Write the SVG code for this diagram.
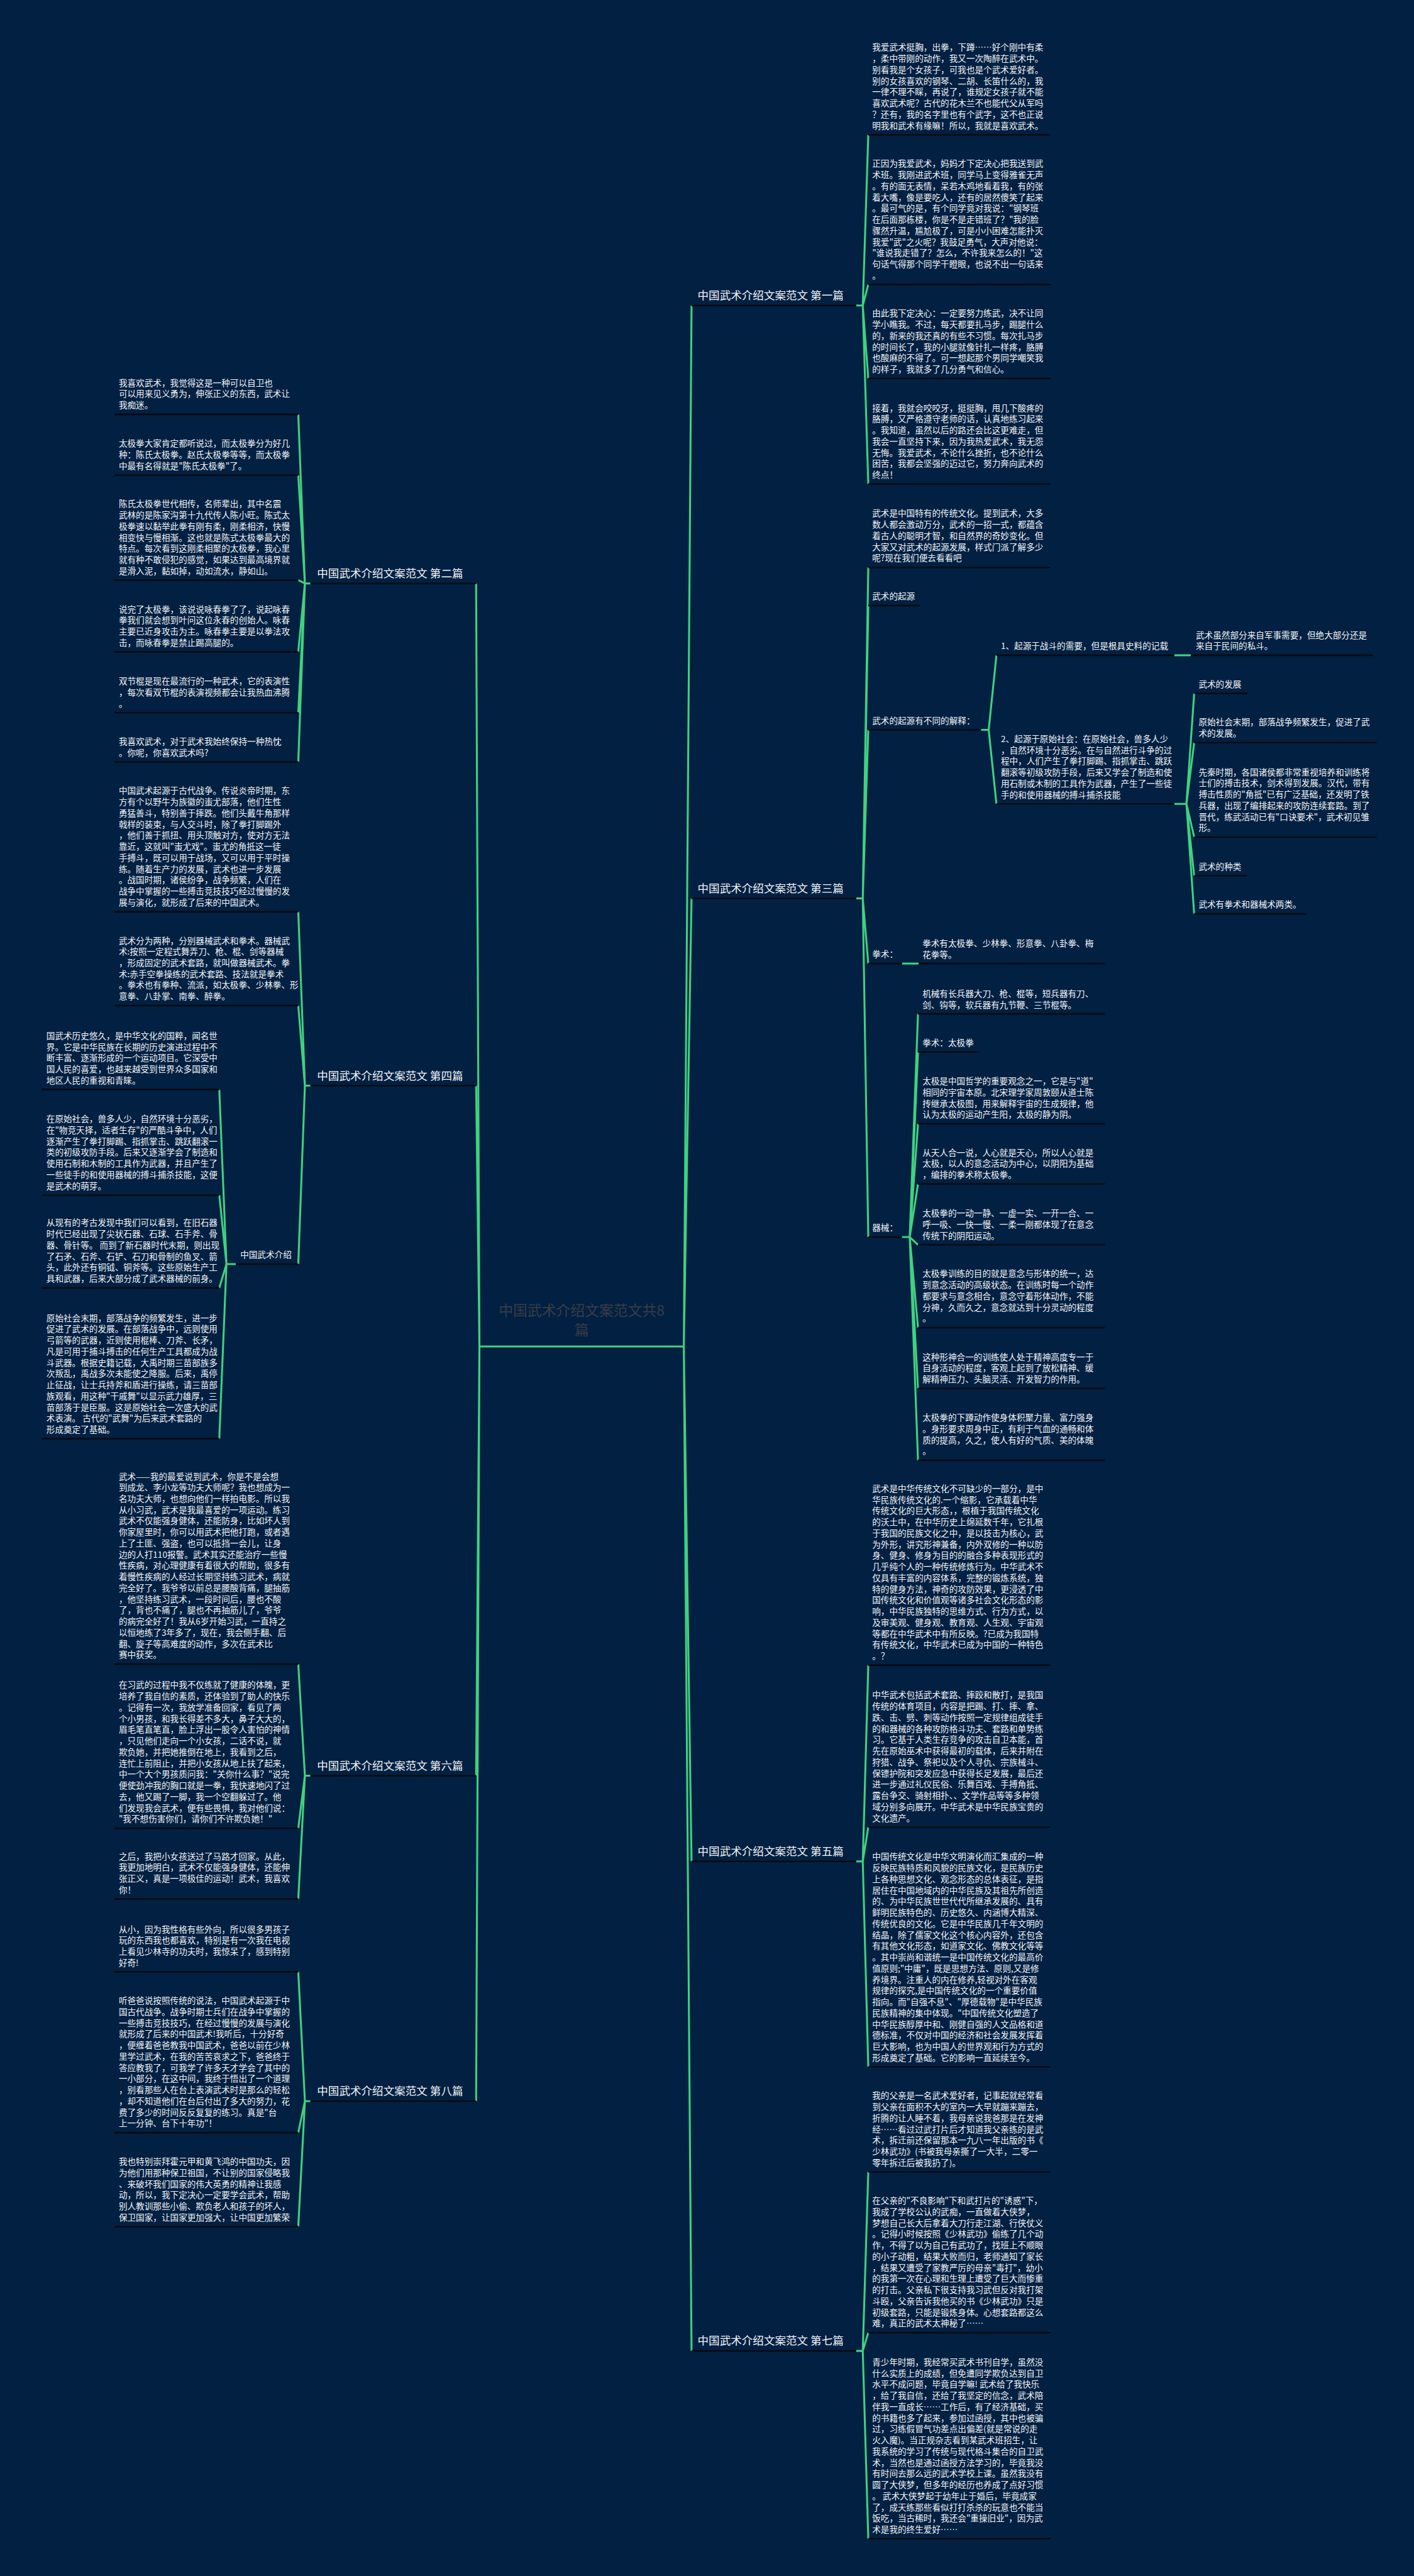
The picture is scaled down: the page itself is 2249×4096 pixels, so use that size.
<svg xmlns="http://www.w3.org/2000/svg" width="2249" height="4096" viewBox="0 0 2249 4096">
<style>
.t{font-family:"Noto Sans CJK SC","Noto Sans",sans-serif;font-size:15.5px;fill:#f2f4f6}
.lb{font-family:"Noto Sans CJK SC","Noto Sans",sans-serif;font-size:20px;fill:#f2f4f6}
.ct{font-family:"Noto Sans CJK SC","Noto Sans",sans-serif;font-size:26px;fill:#3a3d42}
.u{stroke:#050b12;stroke-width:3;fill:none}
.c{stroke:#41d17f;stroke-width:3.5;fill:none;stroke-linejoin:round}
</style>
<rect width="2249" height="4096" fill="#022042"/>
<g transform="scale(0.87852)">
<g id="connectors">
<path class="c" d="M868,2437 H1238"/>
<path class="c" d="M1238,2437 L1252,553 M1238,2437 L1252,1626 M1238,2437 L1252,3369 M1238,2437 L1252,4255"/>
<path class="c" d="M868,2437 L862,1056 M868,2437 L862,1965 M868,2437 L862,3214 M868,2437 L862,3803"/>
<path class="c" d="M1550,553 H1562 L1572,244 M1562,553 L1572,515 M1562,553 L1572,685 M1562,553 L1572,876"/>
<path class="c" d="M1550,1626 H1562 L1572,1027 M1562,1626 L1572,1096 M1562,1626 L1572,1321 M1562,1626 L1572,1744 M1562,1626 L1572,2239"/>
<path class="c" d="M1776,1321 H1790 L1804,1186 M1790,1321 L1804,1455"/>
<path class="c" d="M2126,1186 H2156"/>
<path class="c" d="M2126,1455 H2148 L2162,1255 M2148,1455 L2162,1344 M2148,1455 L2162,1515 M2148,1455 L2162,1585 M2148,1455 L2162,1654"/>
<path class="c" d="M1633,1744 H1663"/>
<path class="c" d="M1633,2239 H1647 L1662,1835 M1647,2239 L1662,1904 M1647,2239 L1662,2034 M1647,2239 L1662,2143 M1647,2239 L1662,2253 M1647,2239 L1662,2403 M1647,2239 L1662,2513 M1647,2239 L1662,2643"/>
<path class="c" d="M1550,3369 H1562 L1572,3014 M1562,3369 L1572,3307 M1562,3369 L1572,3741"/>
<path class="c" d="M1550,4255 H1562 L1572,3931 M1562,4255 L1572,4222 M1562,4255 L1572,4595"/>
<path class="c" d="M562,1056 H552 L540,750 M552,1056 L540,860 M552,1056 L540,1050 M552,1056 L540,1180 M552,1056 L540,1290 M552,1056 L540,1379"/>
<path class="c" d="M562,1965 H552 L540,1650 M552,1965 L540,1820 M552,1965 L540,2288"/>
<path class="c" d="M427,2288 H410 L397,1972 M410,2288 L397,2163 M410,2288 L397,2331 M410,2288 L397,2604"/>
<path class="c" d="M562,3214 H552 L540,3012 M552,3214 L540,3309 M552,3214 L540,3437"/>
<path class="c" d="M562,3803 H552 L540,3569 M552,3803 L540,3860 M552,3803 L540,4030"/>
</g>

<g id="center">
<text class="ct" text-anchor="middle"><tspan x="1053" y="2381">中国武术介绍文案范文共8</tspan><tspan x="1053" y="2416">篇</tspan></text>
</g>

<g id="b1"><text class="lb" x="1263" y="542">中国武术介绍文案范文 第一篇</text><line class="u" x1="1252" y1="553" x2="1550" y2="553"/></g>
<g id="b3"><text class="lb" x="1263" y="1615">中国武术介绍文案范文 第三篇</text><line class="u" x1="1252" y1="1626" x2="1550" y2="1626"/></g>
<g id="b5"><text class="lb" x="1263" y="3358">中国武术介绍文案范文 第五篇</text><line class="u" x1="1252" y1="3369" x2="1550" y2="3369"/></g>
<g id="b7"><text class="lb" x="1263" y="4244">中国武术介绍文案范文 第七篇</text><line class="u" x1="1252" y1="4255" x2="1550" y2="4255"/></g>
<g id="b2"><text class="lb" x="574" y="1045">中国武术介绍文案范文 第二篇</text><line class="u" x1="562" y1="1056" x2="862" y2="1056"/></g>
<g id="b4"><text class="lb" x="574" y="1954">中国武术介绍文案范文 第四篇</text><line class="u" x1="562" y1="1965" x2="862" y2="1965"/></g>
<g id="b6"><text class="lb" x="574" y="3203">中国武术介绍文案范文 第六篇</text><line class="u" x1="562" y1="3214" x2="862" y2="3214"/></g>
<g id="b8"><text class="lb" x="574" y="3792">中国武术介绍文案范文 第八篇</text><line class="u" x1="562" y1="3803" x2="862" y2="3803"/></g>

<g id="r1a"><text class="t" x="1579" y="91.6"><tspan x="1579" dy="0">我爱武术挺胸，出拳，下蹲……好个刚中有柔</tspan><tspan x="1579" dy="20.2">，柔中带刚的动作，我又一次陶醉在武术中。</tspan><tspan x="1579" dy="20.2">别看我是个女孩子，可我也是个武术爱好者。</tspan><tspan x="1579" dy="20.2">别的女孩喜欢的钢琴、二胡、长笛什么的，我</tspan><tspan x="1579" dy="20.2">一律不理不睬，再说了，谁规定女孩子就不能</tspan><tspan x="1579" dy="20.2">喜欢武术呢？古代的花木兰不也能代父从军吗</tspan><tspan x="1579" dy="20.2">？还有，我的名字里也有个武字，这不也正说</tspan><tspan x="1579" dy="20.2">明我和武术有缘嘛！所以，我就是喜欢武术。</tspan></text><line class="u" x1="1572" y1="244" x2="1902" y2="244"/></g>
<g id="r1b"><text class="t" x="1579" y="302"><tspan x="1579" dy="0">正因为我爱武术，妈妈才下定决心把我送到武</tspan><tspan x="1579" dy="20.2">术班。我刚进武术班，同学马上变得雅雀无声</tspan><tspan x="1579" dy="20.2">。有的面无表情，呆若木鸡地看着我，有的张</tspan><tspan x="1579" dy="20.2">着大嘴，像是要吃人，还有的居然傻笑了起来</tspan><tspan x="1579" dy="20.2">。最可气的是，有个同学竟对我说："钢琴班</tspan><tspan x="1579" dy="20.2">在后面那栋楼，你是不是走错班了？"我的脸</tspan><tspan x="1579" dy="20.2">骤然升温，尴尬极了，可是小小困难怎能扑灭</tspan><tspan x="1579" dy="20.2">我爱"武"之火呢？我鼓足勇气，大声对他说：</tspan><tspan x="1579" dy="20.2">"谁说我走错了？怎么，不许我来怎么的！"这</tspan><tspan x="1579" dy="20.2">句话气得那个同学干瞪眼，也说不出一句话来</tspan><tspan x="1579" dy="20.2">。</tspan></text><line class="u" x1="1572" y1="515" x2="1902" y2="515"/></g>
<g id="r1c"><text class="t" x="1579" y="573"><tspan x="1579" dy="0">由此我下定决心：一定要努力练武，决不让同</tspan><tspan x="1579" dy="20.2">学小瞧我。不过，每天都要扎马步，踢腿什么</tspan><tspan x="1579" dy="20.2">的，新来的我还真的有些不习惯。每次扎马步</tspan><tspan x="1579" dy="20.2">的时间长了，我的小腿就像针扎一样疼，胳膊</tspan><tspan x="1579" dy="20.2">也酸麻的不得了。可一想起那个男同学嘲笑我</tspan><tspan x="1579" dy="20.2">的样子，我就多了几分勇气和信心。</tspan></text><line class="u" x1="1572" y1="685" x2="1902" y2="685"/></g>
<g id="r1d"><text class="t" x="1579" y="744"><tspan x="1579" dy="0">接着，我就会咬咬牙，挺挺胸，甩几下酸疼的</tspan><tspan x="1579" dy="20.2">胳膊，又严格遵守老师的话，认真地练习起来</tspan><tspan x="1579" dy="20.2">。我知道，虽然以后的路还会比这更难走，但</tspan><tspan x="1579" dy="20.2">我会一直坚持下来，因为我热爱武术，我无怨</tspan><tspan x="1579" dy="20.2">无悔。我爱武术，不论什么挫折，也不论什么</tspan><tspan x="1579" dy="20.2">困苦，我都会坚强的迈过它，努力奔向武术的</tspan><tspan x="1579" dy="20.2">终点！</tspan></text><line class="u" x1="1572" y1="876" x2="1902" y2="876"/></g>

<g id="r3e"><text class="t" x="1579" y="935"><tspan x="1579" dy="0">武术是中国特有的传统文化。提到武术，大多</tspan><tspan x="1579" dy="20.2">数人都会激动万分，武术的一招一式，都蕴含</tspan><tspan x="1579" dy="20.2">着古人的聪明才智，和自然界的奇妙变化。但</tspan><tspan x="1579" dy="20.2">大家又对武术的起源发展，样式门派了解多少</tspan><tspan x="1579" dy="20.2">呢?现在我们便去看看吧</tspan></text><line class="u" x1="1572" y1="1027" x2="1902" y2="1027"/></g>
<g id="r3qy"><text class="t" x="1579" y="1085">武术的起源</text><line class="u" x1="1572" y1="1096" x2="1666" y2="1096"/></g>
<g id="r3js"><text class="t" x="1579" y="1310">武术的起源有不同的解释：</text><line class="u" x1="1572" y1="1321" x2="1776" y2="1321"/></g>
<g id="r3o1"><text class="t" x="1812" y="1175">1、起源于战斗的需要，但是根具史料的记载</text><line class="u" x1="1804" y1="1186" x2="2126" y2="1186"/></g>
<g id="r3o1a"><text class="t" x="2165" y="1155"><tspan x="2165" dy="0">武术虽然部分来自军事需要，但绝大部分还是</tspan><tspan x="2165" dy="20.2">来自于民间的私斗。</tspan></text><line class="u" x1="2156" y1="1186" x2="2485" y2="1186"/></g>
<g id="r3o2"><text class="t" x="1812" y="1343"><tspan x="1812" dy="0">2、起源于原始社会：在原始社会，兽多人少</tspan><tspan x="1812" dy="20.2">，自然环境十分恶劣。在与自然进行斗争的过</tspan><tspan x="1812" dy="20.2">程中，人们产生了拳打脚踢、指抓掌击、跳跃</tspan><tspan x="1812" dy="20.2">翻滚等初级攻防手段，后来又学会了制造和使</tspan><tspan x="1812" dy="20.2">用石制或木制的工具作为武器，产生了一些徒</tspan><tspan x="1812" dy="20.2">手的和使用器械的搏斗捕杀技能</tspan></text><line class="u" x1="1804" y1="1455" x2="2126" y2="1455"/></g>
<g id="r3fz"><text class="t" x="2170" y="1244">武术的发展</text><line class="u" x1="2162" y1="1255" x2="2258" y2="1255"/></g>
<g id="r3fz1"><text class="t" x="2170" y="1313"><tspan x="2170" dy="0">原始社会末期，部落战争频繁发生，促进了武</tspan><tspan x="2170" dy="20.2">术的发展。</tspan></text><line class="u" x1="2162" y1="1344" x2="2492" y2="1344"/></g>
<g id="r3fz2"><text class="t" x="2170" y="1403"><tspan x="2170" dy="0">先秦时期，各国诸侯都非常重视培养和训练将</tspan><tspan x="2170" dy="20.2">士们的搏击技术，剑术得到发展。汉代，带有</tspan><tspan x="2170" dy="20.2">搏击性质的"角抵"已有广泛基础，还发明了铁</tspan><tspan x="2170" dy="20.2">兵器，出现了编排起来的攻防连续套路。到了</tspan><tspan x="2170" dy="20.2">晋代，练武活动已有"口诀要术"，武术初见雏</tspan><tspan x="2170" dy="20.2">形。</tspan></text><line class="u" x1="2162" y1="1515" x2="2492" y2="1515"/></g>
<g id="r3zl"><text class="t" x="2170" y="1574">武术的种类</text><line class="u" x1="2162" y1="1585" x2="2258" y2="1585"/></g>
<g id="r3zl1"><text class="t" x="2170" y="1643">武术有拳术和器械术两类。</text><line class="u" x1="2162" y1="1654" x2="2365" y2="1654"/></g>
<g id="r3qs"><text class="t" x="1579" y="1733">拳术：</text><line class="u" x1="1572" y1="1744" x2="1633" y2="1744"/></g>
<g id="r3qs1"><text class="t" x="1670" y="1713"><tspan x="1670" dy="0">拳术有太极拳、少林拳、形意拳、八卦拳、梅</tspan><tspan x="1670" dy="20.2">花拳等。</tspan></text><line class="u" x1="1663" y1="1744" x2="2000" y2="1744"/></g>
<g id="r3qx"><text class="t" x="1579" y="2228">器械：</text><line class="u" x1="1572" y1="2239" x2="1633" y2="2239"/></g>
<g id="r3qx1"><text class="t" x="1670" y="1804"><tspan x="1670" dy="0">机械有长兵器大刀、枪、棍等，短兵器有刀、</tspan><tspan x="1670" dy="20.2">剑、钩等，软兵器有九节鞭、三节棍等。</tspan></text><line class="u" x1="1662" y1="1835" x2="2000" y2="1835"/></g>
<g id="r3qx2"><text class="t" x="1670" y="1893">拳术：太极拳</text><line class="u" x1="1662" y1="1904" x2="1772" y2="1904"/></g>
<g id="r3qx3"><text class="t" x="1670" y="1962.4"><tspan x="1670" dy="0">太极是中国哲学的重要观念之一，它是与"道"</tspan><tspan x="1670" dy="20.2">相同的宇宙本原。北宋理学家周敦颐从道士陈</tspan><tspan x="1670" dy="20.2">抟继承太极图，用来解释宇宙的生成规律，他</tspan><tspan x="1670" dy="20.2">认为太极的运动产生阳，太极的静为阴。</tspan></text><line class="u" x1="1662" y1="2034" x2="2000" y2="2034"/></g>
<g id="r3qx4"><text class="t" x="1670" y="2091.6"><tspan x="1670" dy="0">从天人合一说，人心就是天心，所以人心就是</tspan><tspan x="1670" dy="20.2">太极，以人的意念活动为中心，以阴阳为基础</tspan><tspan x="1670" dy="20.2">，编排的拳术称太极拳。</tspan></text><line class="u" x1="1662" y1="2143" x2="2000" y2="2143"/></g>
<g id="r3qx5"><text class="t" x="1670" y="2201.6"><tspan x="1670" dy="0">太极拳的一动一静、一虚一实、一开一合、一</tspan><tspan x="1670" dy="20.2">呼一吸、一快一慢、一柔一刚都体现了在意念</tspan><tspan x="1670" dy="20.2">传统下的阴阳运动。</tspan></text><line class="u" x1="1662" y1="2253" x2="2000" y2="2253"/></g>
<g id="r3qx6"><text class="t" x="1670" y="2311.2"><tspan x="1670" dy="0">太极拳训练的目的就是意念与形体的统一，达</tspan><tspan x="1670" dy="20.2">到意念活动的高级状态。在训练时每一个动作</tspan><tspan x="1670" dy="20.2">都要求与意念相合，意念守着形体动作，不能</tspan><tspan x="1670" dy="20.2">分神，久而久之，意念就达到十分灵动的程度</tspan><tspan x="1670" dy="20.2">。</tspan></text><line class="u" x1="1662" y1="2403" x2="2000" y2="2403"/></g>
<g id="r3qx7"><text class="t" x="1670" y="2461.6"><tspan x="1670" dy="0">这种形神合一的训练使人处于精神高度专一于</tspan><tspan x="1670" dy="20.2">自身活动的程度，客观上起到了放松精神、缓</tspan><tspan x="1670" dy="20.2">解精神压力、头脑灵活、开发智力的作用。</tspan></text><line class="u" x1="1662" y1="2513" x2="2000" y2="2513"/></g>
<g id="r3qx8"><text class="t" x="1670" y="2571.4"><tspan x="1670" dy="0">太极拳的下蹲动作使身体积聚力量、富力强身</tspan><tspan x="1670" dy="20.2">。身形要求周身中正，有利于气血的通畅和体</tspan><tspan x="1670" dy="20.2">质的提高，久之，使人有好的气质、美的体魄</tspan><tspan x="1670" dy="20.2">。</tspan></text><line class="u" x1="1662" y1="2643" x2="2000" y2="2643"/></g>

<g id="r5f"><text class="t" x="1579" y="2700"><tspan x="1579" dy="0">武术是中华传统文化不可缺少的一部分，是中</tspan><tspan x="1579" dy="20.2">华民族传统文化的.一个缩影，它承载着中华</tspan><tspan x="1579" dy="20.2">传统文化的巨大形态，，根植于我国传统文化</tspan><tspan x="1579" dy="20.2">的沃土中，在中华历史上绵延数千年，它扎根</tspan><tspan x="1579" dy="20.2">于我国的民族文化之中，是以技击为核心，武</tspan><tspan x="1579" dy="20.2">为外形，讲究形神兼备，内外双修的一种以防</tspan><tspan x="1579" dy="20.2">身、健身、修身为目的的融合多种表现形式的</tspan><tspan x="1579" dy="20.2">几乎纯个人的一种传统修炼行为。中华武术不</tspan><tspan x="1579" dy="20.2">仅具有丰富的内容体系，完整的锻炼系统，独</tspan><tspan x="1579" dy="20.2">特的健身方法，神奇的攻防效果，更浸透了中</tspan><tspan x="1579" dy="20.2">国传统文化和价值观等诸多社会文化形态的影</tspan><tspan x="1579" dy="20.2">响，中华民族独特的思维方式、行为方式，以</tspan><tspan x="1579" dy="20.2">及审美观、健身观、教育观、人生观、宇宙观</tspan><tspan x="1579" dy="20.2">等都在中华武术中有所反映。?已成为我国特</tspan><tspan x="1579" dy="20.2">有传统文化，中华武术已成为中国的一种特色</tspan><tspan x="1579" dy="20.2">。？</tspan></text><line class="u" x1="1572" y1="3014" x2="1902" y2="3014"/></g>
<g id="r5g"><text class="t" x="1579" y="3073.8"><tspan x="1579" dy="0">中华武术包括武术套路、摔跤和散打，是我国</tspan><tspan x="1579" dy="20.2">传统的体育项目，内容是把踢、打、摔、拿、</tspan><tspan x="1579" dy="20.2">跌、击、劈、刺等动作按照一定规律组成徒手</tspan><tspan x="1579" dy="20.2">的和器械的各种攻防格斗功夫、套路和单势练</tspan><tspan x="1579" dy="20.2">习。它基于人类生存竞争的攻击自卫本能，首</tspan><tspan x="1579" dy="20.2">先在原始巫术中获得最初的载体，后来并附在</tspan><tspan x="1579" dy="20.2">狩猎、战争、祭祀以及个人寻仇、宗族械斗、</tspan><tspan x="1579" dy="20.2">保镖护院和突发应急中获得长足发展，最后还</tspan><tspan x="1579" dy="20.2">进一步通过礼仪民俗、乐舞百戏、手搏角抵、</tspan><tspan x="1579" dy="20.2">露台争交、骑射相扑、、文学作品等等多种领</tspan><tspan x="1579" dy="20.2">域分别多向展开。中华武术是中华民族宝贵的</tspan><tspan x="1579" dy="20.2">文化遗产。</tspan></text><line class="u" x1="1572" y1="3307" x2="1902" y2="3307"/></g>
<g id="r5h"><text class="t" x="1579" y="3366.4"><tspan x="1579" dy="0">中国传统文化是中华文明演化而汇集成的一种</tspan><tspan x="1579" dy="20.2">反映民族特质和风貌的民族文化，是民族历史</tspan><tspan x="1579" dy="20.2">上各种思想文化、观念形态的总体表征，是指</tspan><tspan x="1579" dy="20.2">居住在中国地域内的中华民族及其祖先所创造</tspan><tspan x="1579" dy="20.2">的、为中华民族世世代代所继承发展的、具有</tspan><tspan x="1579" dy="20.2">鲜明民族特色的、历史悠久、内涵博大精深、</tspan><tspan x="1579" dy="20.2">传统优良的文化。它是中华民族几千年文明的</tspan><tspan x="1579" dy="20.2">结晶，除了儒家文化这个核心内容外，还包含</tspan><tspan x="1579" dy="20.2">有其他文化形态，如道家文化、佛教文化等等</tspan><tspan x="1579" dy="20.2">。其中崇尚和谐统一是中国传统文化的最高价</tspan><tspan x="1579" dy="20.2">值原则;"中庸"，既是思想方法、原则,又是修</tspan><tspan x="1579" dy="20.2">养境界。注重人的内在修养,轻视对外在客观</tspan><tspan x="1579" dy="20.2">规律的探究,是中国传统文化的一个重要价值</tspan><tspan x="1579" dy="20.2">指向。而"自强不息"、"厚德载物"是中华民族</tspan><tspan x="1579" dy="20.2">民族精神的集中体现。"中国传统文化塑造了</tspan><tspan x="1579" dy="20.2">中华民族醇厚中和、刚健自强的人文品格和道</tspan><tspan x="1579" dy="20.2">德标准，不仅对中国的经济和社会发展发挥着</tspan><tspan x="1579" dy="20.2">巨大影响，也为中国人的世界观和行为方式的</tspan><tspan x="1579" dy="20.2">形成奠定了基础。它的影响一直延续至今。</tspan></text><line class="u" x1="1572" y1="3741" x2="1902" y2="3741"/></g>

<g id="r7i"><text class="t" x="1579" y="3798.8"><tspan x="1579" dy="0">我的父亲是一名武术爱好者，记事起就经常看</tspan><tspan x="1579" dy="20.2">到父亲在面积不大的室内一大早就蹦来蹦去，</tspan><tspan x="1579" dy="20.2">折腾的让人睡不着，我母亲说我爸那是在发神</tspan><tspan x="1579" dy="20.2">经……看过过武打片后才知道我父亲练的是武</tspan><tspan x="1579" dy="20.2">术，拆迁前还保留那本一九八一年出版的书《</tspan><tspan x="1579" dy="20.2">少林武功》(书被我母亲撕了一大半，二零一</tspan><tspan x="1579" dy="20.2">零年拆迁后被我扔了)。</tspan></text><line class="u" x1="1572" y1="3931" x2="1902" y2="3931"/></g>
<g id="r7j"><text class="t" x="1579" y="3988.8"><tspan x="1579" dy="0">在父亲的"不良影响"下和武打片的"诱惑"下，</tspan><tspan x="1579" dy="20.2">我成了学校公认的武痴，一直做着大侠梦，</tspan><tspan x="1579" dy="20.2">梦想自己长大后拿着大刀行走江湖、行侠仗义</tspan><tspan x="1579" dy="20.2">。记得小时候按照《少林武功》偷练了几个动</tspan><tspan x="1579" dy="20.2">作，不得了以为自己有武功了，找班上不顺眼</tspan><tspan x="1579" dy="20.2">的小子动粗，结果大败而归，老师通知了家长</tspan><tspan x="1579" dy="20.2">，结果又遭受了家教严厉的母亲"毒打"，幼小</tspan><tspan x="1579" dy="20.2">的我第一次在心理和生理上遭受了巨大而惨重</tspan><tspan x="1579" dy="20.2">的打击。父亲私下很支持我习武但反对我打架</tspan><tspan x="1579" dy="20.2">斗殴，父亲告诉我他买的书《少林武功》只是</tspan><tspan x="1579" dy="20.2">初级套路，只能是锻炼身体。心想套路都这么</tspan><tspan x="1579" dy="20.2">难，真正的武术太神秘了……</tspan></text><line class="u" x1="1572" y1="4222" x2="1902" y2="4222"/></g>
<g id="r7k"><text class="t" x="1579" y="4281"><tspan x="1579" dy="0">青少年时期，我经常买武术书刊自学，虽然没</tspan><tspan x="1579" dy="20.2">什么实质上的成绩，但免遭同学欺负达到自卫</tspan><tspan x="1579" dy="20.2">水平不成问题，毕竟自学嘛! 武术给了我快乐</tspan><tspan x="1579" dy="20.2">，给了我自信，还给了我坚定的信念，武术陪</tspan><tspan x="1579" dy="20.2">伴我一直成长……工作后，有了经济基础，买</tspan><tspan x="1579" dy="20.2">的书籍也多了起来，参加过函授，其中也被骗</tspan><tspan x="1579" dy="20.2">过，习练假冒气功差点出偏差(就是常说的走</tspan><tspan x="1579" dy="20.2">火入魔)。当正规杂志看到某武术班招生，让</tspan><tspan x="1579" dy="20.2">我系统的学习了传统与现代格斗集合的自卫武</tspan><tspan x="1579" dy="20.2">术，当然也是通过函授方法学习的，毕竟我没</tspan><tspan x="1579" dy="20.2">有时间去那么远的武术学校上课。虽然我没有</tspan><tspan x="1579" dy="20.2">圆了大侠梦，但多年的经历也养成了点好习惯</tspan><tspan x="1579" dy="20.2">。 武术大侠梦起于幼年止于婚后，毕竟成家</tspan><tspan x="1579" dy="20.2">了，成天练那些看似打打杀杀的玩意也不能当</tspan><tspan x="1579" dy="20.2">饭吃，当古稀时，我还会"重操旧业"，因为武</tspan><tspan x="1579" dy="20.2">术是我的终生爱好……</tspan></text><line class="u" x1="1572" y1="4595" x2="1902" y2="4595"/></g>

<g id="l2a"><text class="t" x="215" y="698.6"><tspan x="215" dy="0">我喜欢武术，我觉得这是一种可以自卫也</tspan><tspan x="215" dy="20.2">可以用来见义勇为，伸张正义的东西，武术让</tspan><tspan x="215" dy="20.2">我痴迷。</tspan></text><line class="u" x1="207" y1="750" x2="540" y2="750"/></g>
<g id="l2b"><text class="t" x="215" y="808.6"><tspan x="215" dy="0">太极拳大家肯定都听说过，而太极拳分为好几</tspan><tspan x="215" dy="20.2">种：陈氏太极拳。赵氏太极拳等等，而太极拳</tspan><tspan x="215" dy="20.2">中最有名得就是"陈氏太极拳"了。</tspan></text><line class="u" x1="207" y1="860" x2="540" y2="860"/></g>
<g id="l2c"><text class="t" x="215" y="917.8"><tspan x="215" dy="0">陈氏太极拳世代相传，名师辈出，其中名震</tspan><tspan x="215" dy="20.2">武林的是陈家沟第十九代传人陈小旺。陈式太</tspan><tspan x="215" dy="20.2">极拳速以黏举此拳有刚有柔，刚柔相济，快慢</tspan><tspan x="215" dy="20.2">相变快与慢相渐。这也就是陈式太极拳最大的</tspan><tspan x="215" dy="20.2">特点。每次看到这刚柔相聚的太极拳，我心里</tspan><tspan x="215" dy="20.2">就有种不敢侵犯的感觉，如果达到最高境界就</tspan><tspan x="215" dy="20.2">是滑入泥，黏如掉，动如流水，静如山。</tspan></text><line class="u" x1="207" y1="1050" x2="540" y2="1050"/></g>
<g id="l2d"><text class="t" x="215" y="1108.4"><tspan x="215" dy="0">说完了太极拳，该说说咏春拳了了，说起咏春</tspan><tspan x="215" dy="20.2">拳我们就会想到叶问这位永春的创始人。咏春</tspan><tspan x="215" dy="20.2">主要已近身攻击为主。咏春拳主要是以拳法攻</tspan><tspan x="215" dy="20.2">击，而咏春拳是禁止踢高腿的。</tspan></text><line class="u" x1="207" y1="1180" x2="540" y2="1180"/></g>
<g id="l2e"><text class="t" x="215" y="1238.6"><tspan x="215" dy="0">双节棍是现在最流行的一种武术，它的表演性</tspan><tspan x="215" dy="20.2">，每次看双节棍的表演视频都会让我热血沸腾</tspan><tspan x="215" dy="20.2">。</tspan></text><line class="u" x1="207" y1="1290" x2="540" y2="1290"/></g>
<g id="l2f"><text class="t" x="215" y="1347.8"><tspan x="215" dy="0">我喜欢武术，对于武术我始终保持一种热忱</tspan><tspan x="215" dy="20.2">。你呢，你喜欢武术吗?</tspan></text><line class="u" x1="207" y1="1379" x2="540" y2="1379"/></g>

<g id="l4a"><text class="t" x="215" y="1437"><tspan x="215" dy="0">中国武术起源于古代战争。传说炎帝时期，东</tspan><tspan x="215" dy="20.2">方有个以野牛为族徽的蚩尤部落，他们生性</tspan><tspan x="215" dy="20.2">勇猛善斗，特别善于摔跌。他们头戴牛角那样</tspan><tspan x="215" dy="20.2">戟样的装束，与人交斗时，除了拳打脚踢外</tspan><tspan x="215" dy="20.2">，他们善于抓扭、用头顶触对方，使对方无法</tspan><tspan x="215" dy="20.2">靠近，这就叫"蚩尤戏"。蚩尤的角抵这一徒</tspan><tspan x="215" dy="20.2">手搏斗，既可以用于战场，又可以用于平时操</tspan><tspan x="215" dy="20.2">练。随着生产力的发展，武术也进一步发展</tspan><tspan x="215" dy="20.2">。战国时期，诸侯纷争，战争频繁，人们在</tspan><tspan x="215" dy="20.2">战争中掌握的一些搏击竞技技巧经过慢慢的发</tspan><tspan x="215" dy="20.2">展与演化，就形成了后来的中国武术。</tspan></text><line class="u" x1="207" y1="1650" x2="540" y2="1650"/></g>
<g id="l4b"><text class="t" x="215" y="1708"><tspan x="215" dy="0">武术分为两种，分别器械武术和拳术。器械武</tspan><tspan x="215" dy="20.2">术:按照一定程式舞弄刀、枪、棍、剑等器械</tspan><tspan x="215" dy="20.2">，形成固定的武术套路，就叫做器械武术。拳</tspan><tspan x="215" dy="20.2">术:赤手空拳操练的武术套路、技法就是拳术</tspan><tspan x="215" dy="20.2">。拳术也有拳种、流派，如太极拳、少林拳、形</tspan><tspan x="215" dy="20.2">意拳、八卦掌、南拳、醉拳。</tspan></text><line class="u" x1="207" y1="1820" x2="540" y2="1820"/></g>
<g id="l4c"><text class="t" x="435" y="2277">中国武术介绍</text><line class="u" x1="427" y1="2288" x2="540" y2="2288"/></g>
<g id="l4m1"><text class="t" x="84" y="1880.2"><tspan x="84" dy="0">国武术历史悠久，是中华文化的国粹，闻名世</tspan><tspan x="84" dy="20.2">界。它是中华民族在长期的历史演进过程中不</tspan><tspan x="84" dy="20.2">断丰富、逐渐形成的一个运动项目。它深受中</tspan><tspan x="84" dy="20.2">国人民的喜爱，也越来越受到世界众多国家和</tspan><tspan x="84" dy="20.2">地区人民的重视和青睐。</tspan></text><line class="u" x1="76" y1="1972" x2="397" y2="1972"/></g>
<g id="l4m2"><text class="t" x="84" y="2030.8"><tspan x="84" dy="0">在原始社会，兽多人少，自然环境十分恶劣，</tspan><tspan x="84" dy="20.2">在"物竞天择，适者生存"的严酷斗争中，人们</tspan><tspan x="84" dy="20.2">逐渐产生了拳打脚踢、指抓掌击、跳跃翻滚一</tspan><tspan x="84" dy="20.2">类的初级攻防手段。后来又逐渐学会了制造和</tspan><tspan x="84" dy="20.2">使用石制和木制的工具作为武器，并且产生了</tspan><tspan x="84" dy="20.2">一些徒手的和使用器械的搏斗捕杀技能，这便</tspan><tspan x="84" dy="20.2">是武术的萌芽。</tspan></text><line class="u" x1="76" y1="2163" x2="397" y2="2163"/></g>
<g id="l4m3"><text class="t" x="84" y="2219"><tspan x="84" dy="0">从现有的考古发现中我们可以看到，在旧石器</tspan><tspan x="84" dy="20.2">时代已经出现了尖状石器、石球、石手斧、骨</tspan><tspan x="84" dy="20.2">器、骨针等。 而到了新石器时代末期，则出现</tspan><tspan x="84" dy="20.2">了石矛、石斧、石铲、石刀和骨制的鱼叉、箭</tspan><tspan x="84" dy="20.2">头，此外还有铜钺、铜斧等。这些原始生产工</tspan><tspan x="84" dy="20.2">具和武器，后来大部分成了武术器械的前身。</tspan></text><line class="u" x1="76" y1="2331" x2="397" y2="2331"/></g>
<g id="l4m4"><text class="t" x="84" y="2391"><tspan x="84" dy="0">原始社会末期，部落战争的频繁发生，进一步</tspan><tspan x="84" dy="20.2">促进了武术的发展。在部落战争中，远则使用</tspan><tspan x="84" dy="20.2">弓箭等的武器，近则使用棍棒、刀斧、长矛，</tspan><tspan x="84" dy="20.2">凡是可用于捕斗搏击的任何生产工具都成为战</tspan><tspan x="84" dy="20.2">斗武器。根据史籍记载，大禹时期三苗部族多</tspan><tspan x="84" dy="20.2">次叛乱，禹战多次未能使之降服。后来，禹停</tspan><tspan x="84" dy="20.2">止征战，让士兵持斧和盾进行操练，请三苗部</tspan><tspan x="84" dy="20.2">族观看，用这种"干戚舞"以显示武力雄厚，三</tspan><tspan x="84" dy="20.2">苗部落于是臣服。这是原始社会一次盛大的武</tspan><tspan x="84" dy="20.2">术表演。 古代的"武舞"为后来武术套路的</tspan><tspan x="84" dy="20.2">形成奠定了基础。</tspan></text><line class="u" x1="76" y1="2604" x2="397" y2="2604"/></g>

<g id="l6a"><text class="t" x="215" y="2677.8"><tspan x="215" dy="0">武术——我的最爱说到武术，你是不是会想</tspan><tspan x="215" dy="20.2">到成龙、李小龙等功夫大师呢？我也想成为一</tspan><tspan x="215" dy="20.2">名功夫大师，也想向他们一样拍电影。所以我</tspan><tspan x="215" dy="20.2">从小习武，武术是我最喜爱的一项运动。练习</tspan><tspan x="215" dy="20.2">武术不仅能强身健体，还能防身，比如坏人到</tspan><tspan x="215" dy="20.2">你家屋里时，你可以用武术把他打跑，或者遇</tspan><tspan x="215" dy="20.2">上了土匪、强盗，也可以抵挡一会儿，让身</tspan><tspan x="215" dy="20.2">边的人打110报警。武术其实还能治疗一些慢</tspan><tspan x="215" dy="20.2">性疾病，对心理健康有着很大的帮助，很多有</tspan><tspan x="215" dy="20.2">着慢性疾病的人经过长期坚持练习武术，病就</tspan><tspan x="215" dy="20.2">完全好了。我爷爷以前总是腰酸背痛，腿抽筋</tspan><tspan x="215" dy="20.2">，他坚持练习武术，一段时间后，腰也不酸</tspan><tspan x="215" dy="20.2">了，背也不痛了，腿也不再抽筋儿了，爷爷</tspan><tspan x="215" dy="20.2">的病完全好了！我从6岁开始习武，一直持之</tspan><tspan x="215" dy="20.2">以恒地练了3年多了，现在，我会侧手翻、后</tspan><tspan x="215" dy="20.2">翻、旋子等高难度的动作，多次在武术比</tspan><tspan x="215" dy="20.2">赛中获奖。</tspan></text><line class="u" x1="207" y1="3012" x2="540" y2="3012"/></g>
<g id="l6b"><text class="t" x="215" y="3055.6"><tspan x="215" dy="0">在习武的过程中我不仅练就了健康的体魄，更</tspan><tspan x="215" dy="20.2">培养了我自信的素质，还体验到了助人的快乐</tspan><tspan x="215" dy="20.2">。记得有一次，我放学准备回家，看见了两</tspan><tspan x="215" dy="20.2">个小男孩，和我长得差不多大，鼻子大大的，</tspan><tspan x="215" dy="20.2">眉毛笔直笔直，脸上浮出一股令人害怕的神情</tspan><tspan x="215" dy="20.2">，只见他们走向一个小女孩，二话不说，就</tspan><tspan x="215" dy="20.2">欺负她，并把她推倒在地上，我看到之后，</tspan><tspan x="215" dy="20.2">连忙上前阻止，并把小女孩从地上扶了起来，</tspan><tspan x="215" dy="20.2">中一个大个男孩质问我："关你什么事？"说完</tspan><tspan x="215" dy="20.2">便使劲冲我的胸口就是一拳，我快速地闪了过</tspan><tspan x="215" dy="20.2">去，他又踢了一脚，我一个空翻躲过了。他</tspan><tspan x="215" dy="20.2">们发现我会武术，便有些畏惧，我对他们说：</tspan><tspan x="215" dy="20.2">"我不想伤害你们，请你们不许欺负她！"</tspan></text><line class="u" x1="207" y1="3309" x2="540" y2="3309"/></g>
<g id="l6c"><text class="t" x="215" y="3365.4"><tspan x="215" dy="0">之后，我把小女孩送过了马路才回家。从此，</tspan><tspan x="215" dy="20.2">我更加地明白，武术不仅能强身健体，还能伸</tspan><tspan x="215" dy="20.2">张正义，真是一项极佳的运动！武术，我喜欢</tspan><tspan x="215" dy="20.2">你！</tspan></text><line class="u" x1="207" y1="3437" x2="540" y2="3437"/></g>

<g id="l8a"><text class="t" x="215" y="3497.4"><tspan x="215" dy="0">从小，因为我性格有些外向，所以很多男孩子</tspan><tspan x="215" dy="20.2">玩的东西我也都喜欢，特别是有一次我在电视</tspan><tspan x="215" dy="20.2">上看见少林寺的功夫时，我惊呆了，感到特别</tspan><tspan x="215" dy="20.2">好奇!</tspan></text><line class="u" x1="207" y1="3569" x2="540" y2="3569"/></g>
<g id="l8b"><text class="t" x="215" y="3626.8"><tspan x="215" dy="0">听爸爸说按照传统的说法，中国武术起源于中</tspan><tspan x="215" dy="20.2">国古代战争。战争时期士兵们在战争中掌握的</tspan><tspan x="215" dy="20.2">一些搏击竞技技巧，在经过慢慢的发展与演化</tspan><tspan x="215" dy="20.2">就形成了后来的中国武术!我听后，十分好奇</tspan><tspan x="215" dy="20.2">，便缠着爸爸教我中国武术，爸爸以前在少林</tspan><tspan x="215" dy="20.2">里学过武术，在我的苦苦哀求之下，爸爸终于</tspan><tspan x="215" dy="20.2">答应教我了，可我学了许多天才学会了其中的</tspan><tspan x="215" dy="20.2">一小部分，在这中间，我终于悟出了一个道理</tspan><tspan x="215" dy="20.2">，别看那些人在台上表演武术时是那么的轻松</tspan><tspan x="215" dy="20.2">，却不知道他们在台后付出了多大的努力，花</tspan><tspan x="215" dy="20.2">费了多少的时间反反复复的练习。真是"台</tspan><tspan x="215" dy="20.2">上一分钟、台下十年功"！</tspan></text><line class="u" x1="207" y1="3860" x2="540" y2="3860"/></g>
<g id="l8c"><text class="t" x="215" y="3918"><tspan x="215" dy="0">我也特别崇拜霍元甲和黄飞鸿的中国功夫，因</tspan><tspan x="215" dy="20.2">为他们用那种保卫祖国，不让别的国家侵略我</tspan><tspan x="215" dy="20.2">、来破坏我们国家的伟大英勇的精神让我感</tspan><tspan x="215" dy="20.2">动，所以，我下定决心一定要学会武术，帮助</tspan><tspan x="215" dy="20.2">别人教训那些小偷、欺负老人和孩子的坏人，</tspan><tspan x="215" dy="20.2">保卫国家，让国家更加强大，让中国更加繁荣</tspan></text><line class="u" x1="207" y1="4030" x2="540" y2="4030"/></g>
</g>
</svg>
